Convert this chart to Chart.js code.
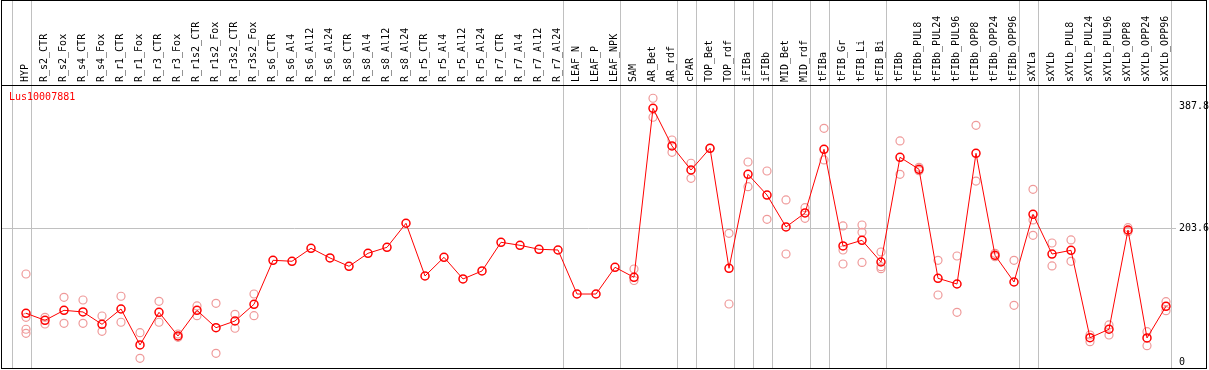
<!DOCTYPE html>
<html>
<head>
<meta charset="utf-8">
<script src="https://cdn.jsdelivr.net/npm/chart.js@4/dist/chart.umd.min.js"></script>
<style>
  body { margin: 0; background: #fff; }
  #wrap { position: relative; width: 1209px; height: 370px; }
  #frame { position: absolute; left: 1px; top: 0; width: 1204px; height: 367px; border: 1px solid #000; pointer-events: none; }
  #hline { position: absolute; left: 1px; top: 85px; width: 1206px; height: 1px; background: #000; }
  #gene { position: absolute; left: 9px; top: 91px; font: 10px "DejaVu Sans Mono", monospace; color: #ff0000; }
</style>
</head>
<body>
<div id="wrap">
  <canvas id="expr" width="1209" height="370"></canvas>
  <div id="frame"></div>
  <div id="hline"></div>
  <div id="gene">Lus10007881</div>
</div>
<script>
'use strict';

// --- Samples (columns) ---
const SAMPLES = ['HYP', 'R_s2_CTR', 'R_s2_Fox', 'R_s4_CTR', 'R_s4_Fox', 'R_r1_CTR', 'R_r1_Fox', 'R_r3_CTR', 'R_r3_Fox',
  'R_r1s2_CTR', 'R_r1s2_Fox', 'R_r3s2_CTR', 'R_r3s2_Fox', 'R_s6_CTR', 'R_s6_Al4', 'R_s6_Al12', 'R_s6_Al24',
  'R_s8_CTR', 'R_s8_Al4', 'R_s8_Al12', 'R_s8_Al24', 'R_r5_CTR', 'R_r5_Al4', 'R_r5_Al12', 'R_r5_Al24',
  'R_r7_CTR', 'R_r7_Al4', 'R_r7_Al12', 'R_r7_Al24', 'LEAF_N', 'LEAF_P', 'LEAF_NPK', 'SAM', 'AR_Bet', 'AR_rdf',
  'cPAR', 'TOP_Bet', 'TOP_rdf', 'iFIBa', 'iFIBb', 'MID_Bet', 'MID_rdf', 'tFIBa', 'tFIB_Gr', 'tFIB_Li', 'tFIB_Bi',
  'tFIBb', 'tFIBb_PUL8', 'tFIBb_PUL24', 'tFIBb_PUL96', 'tFIBb_OPP8', 'tFIBb_OPP24', 'tFIBb_OPP96',
  'sXYLa', 'sXYLb', 'sXYLb_PUL8', 'sXYLb_PUL24', 'sXYLb_PUL96', 'sXYLb_OPP8', 'sXYLb_OPP24', 'sXYLb_OPP96'];

// --- Mittelwerte ---
const MEANS = [74.4, 63.8, 78.9, 76.4, 57.7, 80.9, 26.4, 75.9, 40.0,
  78.9, 52.6, 62.7, 88.0, 154.7, 153.2, 172.9, 158.2,
  145.6, 165.3, 174.4, 210.8, 130.9, 159.2, 126.4, 138.5,
  182.0, 177.4, 171.4, 170.3, 103.6, 103.6, 144.1, 128.9, 385.0, 327.9,
  291.5, 324.4, 142.6, 285.0, 253.6, 205.2, 226.4, 322.9, 176.4, 185.0, 152.1,
  310.8, 292.6, 127.4, 118.8, 316.8, 162.3, 121.8,
  224.4, 164.2, 169.8, 37.4, 50.2, 200.6, 37.0, 85.0];

// --- Replikate (null = keins) ---
const REP_A = [133.9, 68.3, 98.6, 94.5, 70.3, 100.2, 45.0, 92.6, 43.0,
  85.5, 89.5, 72.9, 103.6, null, null, null, null,
  null, null, null, null, null, null, null, null,
  null, null, null, null, null, null, null, 141.5, 400.2, 337.0,
  301.7, 324.4, 195.6, 303.6, 290.0, 246.1, 234.4, 354.7, 206.7, 208.2, 167.3,
  335.5, 295.6, 154.7, 161.2, 359.2, 165.3, 154.7,
  262.3, 180.9, 185.5, 41.5, 56.7, 204.1, 46.5, 92.0];
const REP_B = [68.3, 58.2, 59.2, 59.2, 47.1, 60.8, 6.2, 60.8, 38.0,
  70.8, 13.8, 51.7, 70.8, null, null, null, null,
  null, null, null, null, null, null, null, null,
  null, null, null, null, null, null, null, 124.1, 371.4, 318.3,
  278.9, null, 88.5, 266.2, 216.8, 164.2, 218.3, 306.7, 170.3, 197.1, 145.0,
  285.0, 290.5, 102.1, 75.9, 274.8, 160.2, 86.5,
  215.8, 146.1, 153.2, 31.4, 41.5, 198.0, 25.3, 78.3];
const REP_C = [50.2, null, null, null, null, null, null, null, null,
  null, null, null, null, null, null, null, null,
  null, null, null, null, null, null, null, null,
  null, null, null, null, null, null, null, null, null, null,
  null, null, null, null, null, null, null, null, 149.1, 151.5, 142.0,
  null, null, null, null, null, null, null,
  192.6, null, null, null, null, null, null, null];
const REP_D = [44.1];

// --- Achse ---
const Y_TICKS = [0, 203.6, 387.8];
// Gruppengrenzen: Trennlinie nach diesem Index
const GROUP_ENDS = [-1, 0, 28, 31, 34, 35, 37, 38, 39, 41, 42, 45, 52, 53, 60];

const reps = [];
[REP_A, REP_B, REP_C, REP_D].forEach(arr => {
  arr.forEach((v, i) => { if (v !== null) reps.push({ x: i, y: v }); });
});

const separators = {
  id: 'separators',
  beforeDatasetsDraw(chart) {
    const { ctx, scales: { x } } = chart;
    ctx.save();
    ctx.strokeStyle = '#c0c0c0';
    ctx.lineWidth = 1;
    GROUP_ENDS.forEach(i => {
      const px = Math.round(x.getPixelForValue(i + 0.24)) + 0.5;
      ctx.beginPath();
      ctx.moveTo(px, 0);
      ctx.lineTo(px, 369);
      ctx.stroke();
    });
    ctx.restore();
  },
};

const mono = { family: '"DejaVu Sans Mono", monospace', size: 10 };

new Chart(document.getElementById('expr').getContext('2d'), {
  type: 'line',
  data: {
    datasets: [
      {
        label: 'mean',
        data: MEANS.map((v, i) => ({ x: i, y: v })),
        borderColor: '#ff0000',
        borderWidth: 1,
        pointRadius: 4,
        pointBorderWidth: 1.5,
        pointBorderColor: '#ff0000',
        pointBackgroundColor: 'rgba(0,0,0,0)',
        tension: 0,
        order: 1,
      },
      {
        label: 'replicates',
        data: reps,
        showLine: false,
        pointRadius: 4,
        pointBorderWidth: 1.2,
        pointBorderColor: '#ef9a9a',
        pointBackgroundColor: 'rgba(0,0,0,0)',
        order: 2,
      },
    ],
  },
  options: {
    responsive: false,
    animation: false,
    devicePixelRatio: 1,
    layout: { autoPadding: false, padding: { left: 1, right: 0, top: 0, bottom: 2 } },
    plugins: { legend: { display: false }, tooltip: { enabled: false } },
    scales: {
      x: {
        type: 'linear',
        position: 'top',
        min: -25 / 19,
        max: 60.5,
        afterBuildTicks: s => { s.ticks = SAMPLES.map((_, i) => ({ value: i })); },
        afterFit: s => { s.height = 85; s.paddingLeft = 0; s.paddingRight = 0; },
        grid: { display: false, drawTicks: false },
        border: { display: false },
        ticks: {
          autoSkip: false,
          minRotation: 90,
          maxRotation: 90,
          padding: 3,
          labelOffset: 11.5,
          color: '#000',
          font: mono,
          callback: v => SAMPLES[v],
        },
      },
      y: {
        type: 'linear',
        position: 'right',
        min: -8.5,
        max: 420.3,
        afterBuildTicks: s => { s.ticks = Y_TICKS.map(v => ({ value: v })); },
        afterFit: s => { s.width = 33.5; s.paddingTop = 0; s.paddingBottom = 0; },
        grid: {
          drawTicks: false,
          color: c => (c.tick && c.tick.value === 203.6 ? '#c0c0c0' : 'rgba(0,0,0,0)'),
        },
        border: { display: false },
        ticks: {
          padding: 3.5,
          color: '#000',
          font: mono,
          callback: v => String(v),
        },
      },
    },
  },
  plugins: [separators],
});
</script>
</body>
</html>
